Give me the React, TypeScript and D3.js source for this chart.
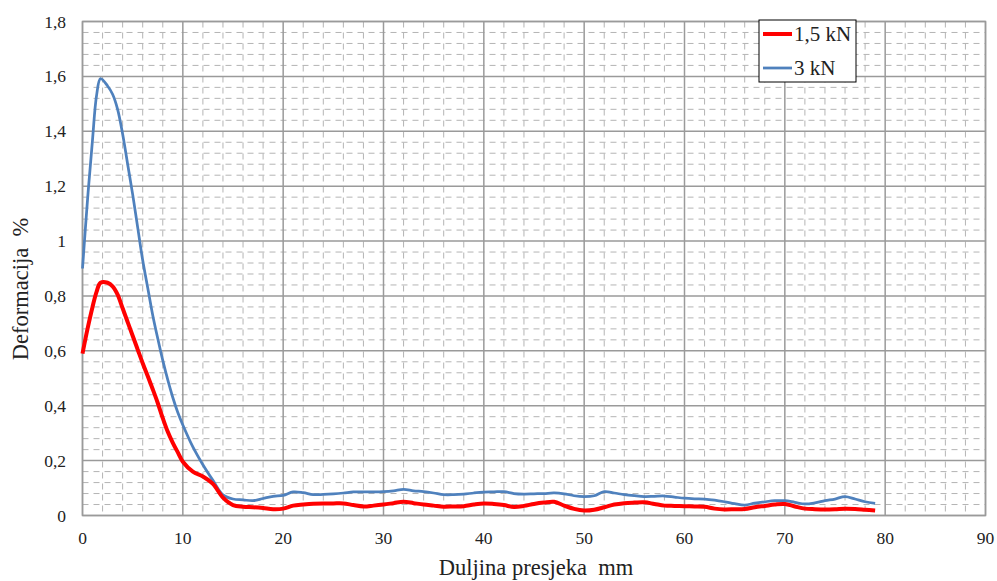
import React from "react";
import * as d3 from "d3";

const xValues = [0, 0.5, 1, 1.4, 1.8, 2.5, 3, 3.5, 4, 4.5, 5, 5.5, 6, 6.5, 7, 7.5, 8, 8.5, 9, 9.5, 10,
  11, 12, 13, 14, 15, 16, 17, 18, 19, 20, 21, 22, 23, 24, 25, 26, 27, 28, 29, 30,
  31, 32, 33, 34, 35, 36, 37, 38, 39, 40, 41, 42, 43, 44, 45, 46, 47, 48, 49, 50,
  51, 52, 53, 54, 55, 56, 57, 58, 59, 60, 61, 62, 63, 64, 65, 66, 67, 68, 69, 70,
  71, 72, 73, 74, 75, 76, 77, 78, 79];

const series3kN = [0.9, 1.15, 1.37, 1.53, 1.592, 1.565, 1.535, 1.48, 1.39, 1.28, 1.17, 1.05, 0.93, 0.83, 0.73, 0.645, 0.565, 0.494, 0.43, 0.375, 0.33,
  0.25, 0.185, 0.128, 0.075, 0.06, 0.057, 0.054, 0.062, 0.07, 0.073, 0.086, 0.083, 0.076, 0.077, 0.079, 0.082, 0.086, 0.086, 0.086, 0.087,
  0.09, 0.095, 0.09, 0.087, 0.082, 0.076, 0.076, 0.078, 0.082, 0.085, 0.086, 0.087, 0.08, 0.078, 0.079, 0.08, 0.082, 0.079, 0.072, 0.069,
  0.072, 0.087, 0.082, 0.076, 0.072, 0.069, 0.07, 0.071, 0.067, 0.063, 0.061, 0.06, 0.056, 0.05, 0.043, 0.038, 0.045, 0.05, 0.054, 0.054,
  0.048, 0.042, 0.046, 0.054, 0.06, 0.069, 0.06, 0.05, 0.044];

const series15kN = [0.59, 0.68, 0.76, 0.815, 0.848, 0.848, 0.835, 0.805, 0.755, 0.705, 0.655, 0.605, 0.555, 0.508, 0.46, 0.41, 0.355, 0.305, 0.265, 0.23, 0.196,
  0.16, 0.142, 0.115, 0.065, 0.038, 0.032, 0.03, 0.027, 0.023, 0.025, 0.036, 0.04, 0.043, 0.044, 0.044, 0.044, 0.038, 0.033, 0.036, 0.04,
  0.045, 0.05, 0.045, 0.04, 0.036, 0.032, 0.033, 0.034, 0.04, 0.044, 0.042, 0.038, 0.031, 0.035, 0.042, 0.047, 0.05, 0.036, 0.024, 0.018,
  0.021, 0.03, 0.04, 0.045, 0.047, 0.048, 0.042, 0.036, 0.035, 0.034, 0.033, 0.032, 0.025, 0.022, 0.023, 0.024, 0.03, 0.035, 0.04, 0.042,
  0.033, 0.025, 0.023, 0.022, 0.023, 0.025, 0.024, 0.021, 0.018];

const xTicks = [0, 10, 20, 30, 40, 50, 60, 70, 80, 90];
const yTicks = [0, 0.2, 0.4, 0.6, 0.8, 1, 1.2, 1.4, 1.6, 1.8];
const seriesNames = ["1,5 kN", "3 kN"];

const W = 997, H = 581;
const left = 82.5, right = 985.5, top = 21.5, bottom = 515.5;

export default function App() {
  const x = d3.scaleLinear().domain([0, 90]).range([left, right]);
  const y = d3.scaleLinear().domain([0, 1.8]).range([bottom, top]);
  const minorX = d3.range(0, 90.001, 2).filter((v) => Math.abs(v % 10) > 1e-6);
  const minorY = d3.range(0, 1.8001, 0.04).filter((v) => {
    const r = Math.abs(v / 0.2 - Math.round(v / 0.2));
    return r > 1e-6;
  });
  const line = d3
    .line<number>()
    .x((_, i) => x(xValues[i]))
    .y((d) => y(d))
    .curve(d3.curveCatmullRom.alpha(0.5));
  const fmt = (v: number) => String(+v.toFixed(1)).replace(".", ",");
  const font = "'Liberation Serif', 'Times New Roman', serif";

  return (
    <>
      <style>{`body{margin:0}`}</style>
      <svg width={W} height={H} style={{ display: "block", background: "#fff" }} fontFamily={font}>
        <g stroke="#b4b4b4" strokeWidth={1} strokeDasharray="6,5">
          {minorX.map((v) => (
            <line key={"mx" + v} x1={x(v)} x2={x(v)} y1={top} y2={bottom} />
          ))}
          {minorY.map((v) => (
            <line key={"my" + v} x1={left} x2={right} y1={y(v)} y2={y(v)} />
          ))}
        </g>
        <g stroke="#9a9a9a" strokeWidth={1.5}>
          {xTicks.map((v) => (
            <line key={"gx" + v} x1={x(v)} x2={x(v)} y1={top} y2={bottom} />
          ))}
          {yTicks.map((v) => (
            <line key={"gy" + v} x1={left} x2={right} y1={y(v)} y2={y(v)} />
          ))}
        </g>
        <rect x={left} y={top} width={right - left} height={bottom - top} fill="none" stroke="#9a9a9a" strokeWidth={1.5} />
        <path d={line(series3kN) || ""} fill="none" stroke="#4f81bd" strokeWidth={2.75} strokeLinejoin="round" />
        <path d={line(series15kN) || ""} fill="none" stroke="#ff0000" strokeWidth={4} strokeLinejoin="round" />
        <g fontSize={17.5} fill="#222">
          {xTicks.map((v) => (
            <text key={"tx" + v} x={x(v)} y={544} textAnchor="middle">{fmt(v)}</text>
          ))}
          {yTicks.map((v) => (
            <text key={"ty" + v} x={66} y={y(v) + 6} textAnchor="end">{fmt(v)}</text>
          ))}
        </g>
        <text x={536} y={575} textAnchor="middle" fontSize={22.5} fill="#222" style={{ whiteSpace: "pre" }}>
          {"Duljina presjeka  mm"}
        </text>
        <text
          transform={`translate(28,289) rotate(-90)`}
          textAnchor="middle"
          fontSize={22.5}
          fill="#222"
          style={{ whiteSpace: "pre" }}
        >
          {"Deformacija  %"}
        </text>
        <g>
          <rect x={759} y={20} width={97} height={62} fill="#fff" stroke="#000" strokeWidth={1} />
          <line x1={763} x2={792} y1={34} y2={34} stroke="#ff0000" strokeWidth={4} />
          <text x={794} y={41} fontSize={21} fill="#222">{seriesNames[0]}</text>
          <line x1={763} x2={792} y1={68} y2={68} stroke="#4f81bd" strokeWidth={2.75} />
          <text x={794} y={75} fontSize={21} fill="#222">{seriesNames[1]}</text>
        </g>
      </svg>
    </>
  );
}
